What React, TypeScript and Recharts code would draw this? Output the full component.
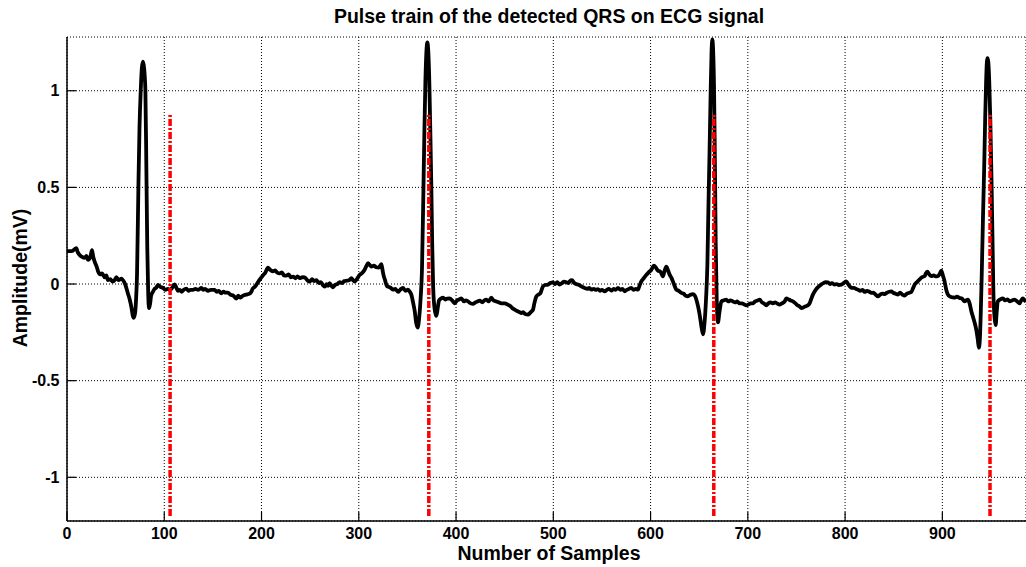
import { CartesianGrid, Line, LineChart, XAxis, YAxis } from 'recharts'

// ECG trace (sample index, amplitude in mV)
const ecgSamples = [
    0, 5, 9.6, 11, 13, 15.5, 18, 20, 21.6, 24, 25.7, 27, 28.5, 30.5, 32, 34, 36, 38.8, 40.5, 42, 44.5, 47, 49, 50.8,
    53, 56, 57.5, 59.3, 61, 62.7, 64.5, 66.2, 67.5, 68.6, 70, 71, 72, 73.4, 74.5, 75.8, 77, 78.1, 79.2, 80.6, 81.6,
    82.5, 83.5, 84.3, 85.5, 86.5, 88.4, 90, 91.5, 93.6, 96, 98.7, 101, 103.8, 106, 108, 110.7, 112.5, 114, 115.9, 118,
    120, 122.7, 125, 127, 129.5, 132, 135, 138.2, 140, 142, 145, 148, 151.8, 154, 156, 158.7, 161, 163, 165.5, 168,
    171, 174.2, 176, 178, 181, 184, 187.8, 189.5, 191.2, 193, 196.4, 198.5, 201.5, 204, 206.6, 208.5, 211.8, 214, 216,
    218.7, 221, 223, 225.5, 228, 230, 232.4, 235, 237, 239.2, 242, 244.4, 247, 249.5, 252, 254, 256.4, 259, 261, 263,
    265, 267, 268.5, 270, 272, 273.5, 275.5, 278, 280.4, 283, 285, 287.2, 290, 292.4, 294, 295.8, 298, 301, 303, 306,
    308, 309.5, 311, 313, 315.5, 318, 320.5, 323.2, 324.5, 325.5, 327, 329, 331, 333, 335.2, 337.5, 340.3, 342.5,
    345.4, 348, 350.6, 352.5, 354, 356, 357.5, 359, 360.5, 362, 363.5, 365, 366.5, 367.5, 368.5, 369.5, 370.5, 371.5,
    372.5, 373.5, 374.6, 375.5, 376.5, 378, 379.8, 381.3, 382.5, 384.5, 386.6, 389, 391, 393.4, 396, 398.6, 401, 403,
    405.5, 408, 410, 412.3, 415, 417.4, 420, 422, 424.3, 427, 429, 431.2, 433.5, 436.3, 438.5, 441.5, 444, 446.6, 450,
    453.4, 456, 458, 460.3, 463, 465, 467.2, 469, 471, 474, 476, 478, 479.1, 480.5, 482.6, 484.5, 486.7, 488, 489.4,
    491.5, 494.5, 497, 499.6, 502, 504, 506.5, 509, 511, 513.4, 515.5, 517, 519.2, 521.5, 523.5, 525.3, 528, 530,
    532.2, 535, 537, 539.1, 541.5, 543.5, 545.9, 548, 550, 552.8, 555, 557, 559.7, 562, 564, 566.5, 569, 571, 573.4,
    575.5, 578, 580.2, 582.5, 585, 587, 588.5, 590.5, 593, 595.7, 598, 600.8, 603.5, 605.5, 607.6, 610, 612.7, 614.5,
    616.2, 618, 619.5, 621.4, 624, 626.5, 629, 631.6, 634, 636, 638.4, 641, 643.6, 645.5, 647.1, 649, 650.5, 652.3,
    653.9, 655.5, 657, 658.4, 659.5, 660.7, 661.8, 662.7, 663.5, 664.4, 665.3, 666.2, 667, 668, 669.3, 670.7, 672.8,
    675, 677.9, 680, 682, 684.7, 687, 689, 691.6, 694, 696, 698.5, 701, 703, 705.3, 707.5, 710, 712.2, 714.5, 716.5,
    719, 721, 723.5, 725.8, 728, 730, 732.7, 735, 737.9, 739.6, 742, 744, 746.4, 749, 751, 753, 755, 757.5, 759.5,
    761.8, 763.5, 765, 766.9, 768.5, 770.4, 772.5, 775.6, 778, 780, 782.4, 784.5, 786.5, 789.3, 791.5, 793.5, 796.1,
    798.5, 801.3, 803, 804.5, 806.4, 809, 811, 813.2, 815.5, 818, 820.1, 822.5, 825, 827, 829, 831.5, 833.8, 836,
    838.5, 840.7, 843, 845.5, 847.5, 849.5, 852, 854.3, 856.5, 859, 861.2, 863.5, 866, 868.1, 870, 871.5, 874, 876.6,
    879, 881.8, 883, 884.5, 886.5, 888.6, 891, 893, 895.4, 897.5, 898.9, 900.5, 902.3, 904, 905.7, 908, 910.8, 913,
    915, 917.7, 920, 922.9, 924.5, 926.3, 928, 929.8, 931.5, 933.2, 935, 936.5, 937.5, 938.5, 939.5, 940.5, 941.8,
    943, 944, 945, 945.8, 946.4, 947.2, 948.2, 949.3, 950.5, 951.5, 952.5, 953.8, 954.8, 955.8, 957, 959.5, 962.3,
    964.5, 967, 969.2, 971.5, 974.3, 977, 979.4, 981, 982.8, 984.5, 986
]

const ecgAmplitude = [
    0.17, 0.17, 0.185, 0.165, 0.15, 0.14, 0.135, 0.145, 0.125, 0.14, 0.175, 0.14, 0.115, 0.09, 0.065, 0.05, 0.055,
    0.035, 0.045, 0.02, 0.025, 0.012, 0.02, 0.035, 0.02, 0.028, 0.02, 0.005, -0.02, -0.05, -0.08, -0.12, -0.16, -0.175,
    -0.15, -0.08, 0.05, 0.5, 0.8, 1.0, 1.12, 1.15, 1.12, 1.0, 0.6, 0.2, -0.05, -0.125, -0.1, -0.06, -0.04, -0.025,
    -0.02, -0.005, -0.015, -0.02, -0.03, -0.025, -0.03, -0.02, -0.002, -0.02, -0.035, -0.03, -0.04, -0.03, -0.024,
    -0.035, -0.03, -0.03, -0.025, -0.03, -0.02, -0.03, -0.025, -0.035, -0.03, -0.03, -0.04, -0.035, -0.048, -0.04,
    -0.045, -0.045, -0.055, -0.06, -0.075, -0.06, -0.07, -0.06, -0.055, -0.05, -0.04, -0.022, -0.015, 0.01, 0.025,
    0.045, 0.06, 0.085, 0.075, 0.066, 0.07, 0.06, 0.055, 0.06, 0.045, 0.043, 0.05, 0.035, 0.038, 0.03, 0.04, 0.031,
    0.035, 0.034, 0.02, 0.012, 0.025, 0.015, 0.02, 0.005, 0.01, -0.005, -0.013, 0.0, -0.01, 0.005, -0.01, -0.017,
    -0.005, 0.0, 0.01, 0.005, 0.015, 0.017, 0.02, 0.03, 0.02, 0.012, 0.025, 0.048, 0.055, 0.074, 0.095, 0.108, 0.1,
    0.09, 0.095, 0.087, 0.085, 0.103, 0.07, 0.045, 0.02, -0.012, -0.015, -0.02, -0.029, -0.025, -0.041, -0.03, -0.02,
    -0.035, -0.029, -0.04, -0.055, -0.1, -0.14, -0.2, -0.225, -0.18, -0.08, 0.08, 0.5, 0.8, 1.05, 1.2, 1.25, 1.2, 1.05,
    0.8, 0.5, 0.2, -0.02, -0.13, -0.165, -0.12, -0.085, -0.075, -0.07, -0.08, -0.075, -0.074, -0.085, -0.1, -0.085,
    -0.08, -0.074, -0.09, -0.085, -0.09, -0.1, -0.103, -0.095, -0.09, -0.086, -0.095, -0.085, -0.081, -0.09, -0.07,
    -0.085, -0.09, -0.095, -0.1, -0.1, -0.107, -0.115, -0.125, -0.133, -0.14, -0.145, -0.15, -0.145, -0.155, -0.158,
    -0.15, -0.14, -0.133, -0.1, -0.064, -0.055, -0.048, -0.03, -0.012, -0.005, -0.003, 0.005, 0.009, 0.0, 0.01, -0.003,
    0.005, 0.012, 0.009, 0.005, 0.015, 0.02, 0.005, 0.0, -0.003, -0.01, -0.015, -0.02, -0.025, -0.02, -0.029, -0.025,
    -0.03, -0.026, -0.035, -0.03, -0.038, -0.03, -0.025, -0.034, -0.025, -0.03, -0.02, -0.03, -0.025, -0.038, -0.03,
    -0.025, -0.02, -0.03, -0.025, -0.029, -0.01, 0.014, 0.03, 0.048, 0.06, 0.074, 0.095, 0.085, 0.069, 0.065, 0.04,
    0.07, 0.09, 0.07, 0.05, 0.033, 0.0, -0.029, -0.035, -0.046, -0.05, -0.06, -0.064, -0.055, -0.052, -0.06, -0.081,
    -0.12, -0.16, -0.22, -0.26, -0.2, -0.08, 0.1, 0.4, 0.7, 1.0, 1.2, 1.266, 1.2, 1.0, 0.6, 0.2, -0.08, -0.198, -0.15,
    -0.09, -0.085, -0.081, -0.09, -0.085, -0.09, -0.095, -0.09, -0.1, -0.1, -0.105, -0.11, -0.105, -0.1, -0.1, -0.09,
    -0.085, -0.081, -0.095, -0.1, -0.11, -0.1, -0.095, -0.1, -0.095, -0.1, -0.107, -0.1, -0.09, -0.074, -0.08, -0.085,
    -0.09, -0.1, -0.11, -0.115, -0.124, -0.12, -0.115, -0.11, -0.1, -0.08, -0.055, -0.04, -0.026, -0.015, -0.002,
    0.005, 0.01, 0.009, 0.0, 0.005, -0.003, 0.0, -0.005, -0.003, 0.005, 0.014, 0.0, -0.01, -0.02, -0.02, -0.025,
    -0.029, -0.035, -0.03, -0.041, -0.035, -0.04, -0.046, -0.045, -0.055, -0.064, -0.055, -0.05, -0.052, -0.045, -0.04,
    -0.038, -0.045, -0.05, -0.055, -0.045, -0.055, -0.06, -0.05, -0.045, -0.041, -0.02, -0.003, 0.01, 0.024, 0.035,
    0.041, 0.055, 0.064, 0.05, 0.041, 0.045, 0.04, 0.041, 0.055, 0.069, 0.045, 0.014, -0.03, -0.055, -0.065, -0.069,
    -0.07, -0.065, -0.072, -0.075, -0.09, -0.085, -0.081, -0.1, -0.141, -0.17, -0.2, -0.24, -0.29, -0.33, -0.29, -0.15,
    0.05, 0.35, 0.6, 0.85, 1.05, 1.15, 1.168, 1.15, 1.05, 0.85, 0.55, 0.25, -0.05, -0.18, -0.212, -0.15, -0.09, -0.08,
    -0.074, -0.085, -0.08, -0.09, -0.085, -0.081, -0.09, -0.1, -0.085, -0.074, -0.085, -0.09
]

// detected QRS positions and the pulse limits
const qrsSamples = [106, 372, 665, 949]
const pulseLow = -1.2
const pulseHigh = 0.875

const xTicks = [0, 100, 200, 300, 400, 500, 600, 700, 800, 900]
const yTicks = [-1, -0.5, 0, 0.5, 1]

const ecgData = ecgSamples.map((x, i) => ({ x, y: ecgAmplitude[i] }))
const pulses = qrsSamples.map((x) => [
    { x, y: pulseLow },
    { x, y: pulseHigh }
])

const FONT = '"Liberation Sans", Arial, Helvetica, sans-serif'
const TICK_LEN = 9
const Y_MARGIN = 7.5
const X_MARGIN = 7

const YTick = ({ x, y, payload }: any) => (
    <g>
        <line x1={x + Y_MARGIN} x2={x + Y_MARGIN + TICK_LEN} y1={y} y2={y} stroke='#000' strokeWidth={1.2} />
        <text x={x} y={y} dy='0.36em' textAnchor='end' fontFamily={FONT} fontWeight='bold' fontSize={16} fill='#000'>
            {payload.value}
        </text>
    </g>
)

const XTick = ({ x, y, payload }: any) => (
    <g>
        <line x1={x} x2={x} y1={y - X_MARGIN} y2={y - X_MARGIN - TICK_LEN} stroke='#000' strokeWidth={1.2} />
        <text x={x} y={y} dy='0.7em' textAnchor='middle' fontFamily={FONT} fontWeight='bold' fontSize={16} fill='#000'>
            {payload.value}
        </text>
    </g>
)

const TopTick = ({ x, y }: any) => (
    <line x1={x} x2={x} y1={y} y2={y + TICK_LEN} stroke='#000' strokeWidth={1.2} />
)

export default function App() {
    return (
        <div style={{ position: 'absolute', left: 0, top: 0, width: 1026, height: 567, background: '#fff' }}>
            <LineChart width={1026} height={567} margin={{ top: 37, right: 0, bottom: 0, left: 0 }}>
                <CartesianGrid stroke='#000' strokeWidth={1} strokeDasharray='1 2' />
                <XAxis
                    dataKey='x'
                    type='number'
                    domain={[0, 986]}
                    allowDataOverflow
                    ticks={xTicks}
                    interval={0}
                    height={46}
                    tickSize={0}
                    tickMargin={X_MARGIN}
                    tickLine={false}
                    tick={<XTick />}
                    axisLine={{ stroke: '#000', strokeWidth: 1.5 }}
                />
                <XAxis
                    xAxisId='top'
                    orientation='top'
                    dataKey='x'
                    type='number'
                    domain={[0, 986]}
                    allowDataOverflow
                    ticks={xTicks}
                    interval={0}
                    height={0}
                    tickSize={0}
                    tickMargin={0}
                    tickLine={false}
                    tick={<TopTick />}
                    axisLine={{ stroke: '#000', strokeWidth: 1.5 }}
                />
                <YAxis
                    type='number'
                    domain={[-1.226, 1.278]}
                    allowDataOverflow
                    ticks={yTicks}
                    interval={0}
                    width={67}
                    tickSize={0}
                    tickMargin={Y_MARGIN}
                    tickLine={false}
                    tick={<YTick />}
                    axisLine={{ stroke: '#000', strokeWidth: 1.5 }}
                />
                <Line
                    data={ecgData}
                    dataKey='y'
                    type='monotone'
                    stroke='#000'
                    strokeWidth={3.8}
                    dot={false}
                    activeDot={false}
                    isAnimationActive={false}
                />
                {pulses.map((pulse, i) => (
                    <Line
                        key={qrsSamples[i]}
                        data={pulse}
                        dataKey='y'
                        type='linear'
                        stroke='#ff0000'
                        strokeWidth={3.5}
                        strokeDasharray='7 2 2 2'
                        dot={false}
                        activeDot={false}
                        isAnimationActive={false}
                    />
                ))}
                <text x={549} y={23} textAnchor='middle' fontFamily={FONT} fontWeight='bold' fontSize={19.5} fill='#000'>
                    Pulse train of the detected QRS on ECG signal
                </text>
                <text x={549} y={560} textAnchor='middle' fontFamily={FONT} fontWeight='bold' fontSize={19.5} fill='#000'>
                    Number of Samples
                </text>
                <text
                    x={27}
                    y={278}
                    transform='rotate(-90, 27, 278)'
                    textAnchor='middle'
                    fontFamily={FONT}
                    fontWeight='bold'
                    fontSize={19.5}
                    fill='#000'
                >
                    Amplitude(mV)
                </text>
            </LineChart>
        </div>
    )
}
